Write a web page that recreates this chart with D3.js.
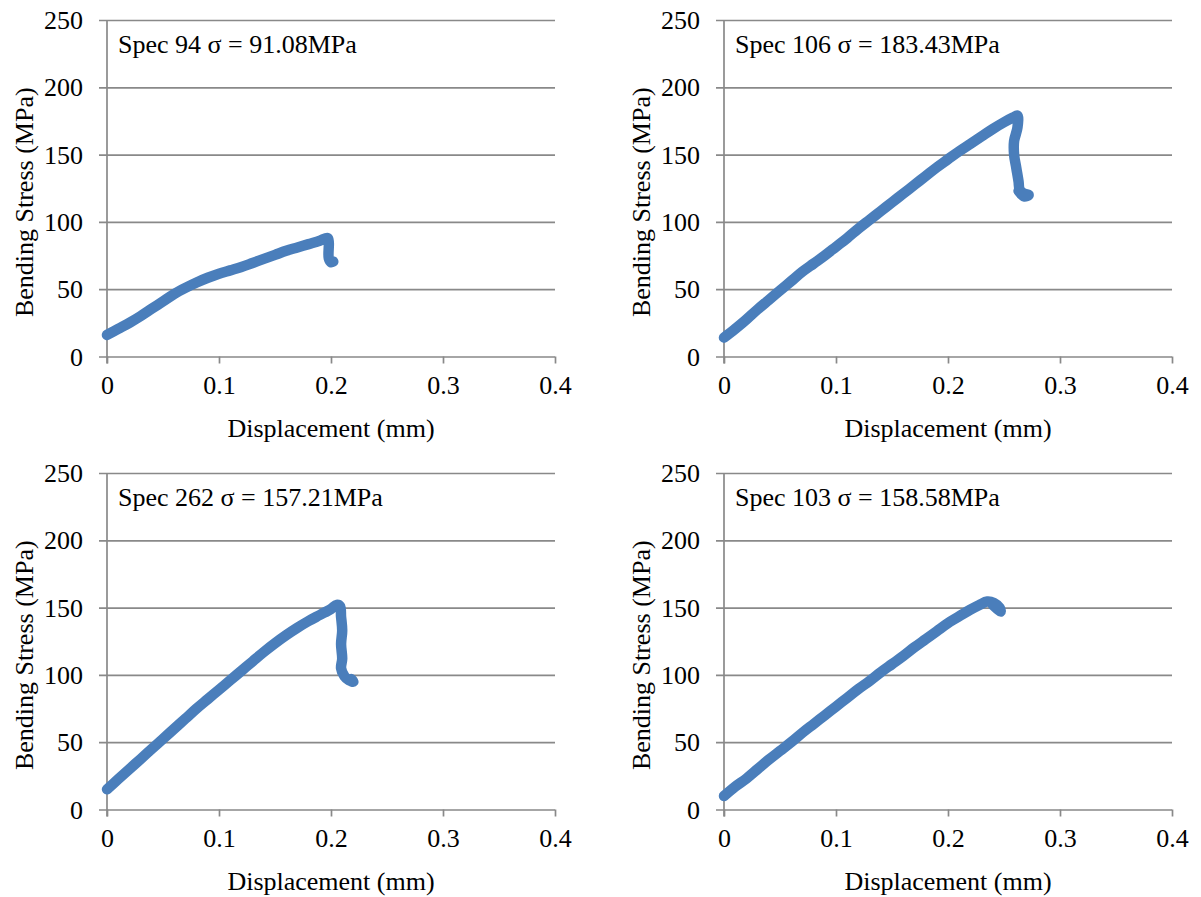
<!DOCTYPE html>
<html>
<head>
<meta charset="utf-8">
<script src="https://cdn.jsdelivr.net/npm/d3@7"></script>
<style>
  body { margin: 0; background: #fff; }
  svg text { font-family: "Liberation Serif", "Times New Roman", serif; fill: #000; }
</style>
</head>
<body>
<div id="chart"></div>
<script>
// Readings off the four bend tests: [displacement (mm), bending stress (MPa)]
const spec94 = [
  [0, 16], [0.01, 20.5], [0.02, 25], [0.03, 30], [0.04, 35.5], [0.05, 41],
  [0.06, 46.5], [0.07, 51], [0.08, 55], [0.09, 58.5], [0.1, 61.5], [0.11, 64],
  [0.12, 66.5], [0.13, 69.5], [0.14, 72.5], [0.15, 75.5], [0.16, 78.5], [0.17, 81],
  [0.18, 83.5], [0.19, 86], [0.197, 88], [0.198, 85], [0.198, 73], [0.2, 70], [0.202, 70.5]
];
const spec106 = [
  [0, 14], [0.01, 20.5], [0.02, 27.5], [0.03, 35], [0.04, 42], [0.05, 49],
  [0.06, 56], [0.07, 63], [0.08, 69], [0.09, 75], [0.1, 81.5], [0.11, 88],
  [0.12, 95], [0.13, 101.5], [0.14, 108], [0.15, 114.5], [0.16, 121], [0.17, 127.5],
  [0.18, 134], [0.19, 140.5], [0.2, 146.5], [0.21, 152.5], [0.22, 158], [0.23, 163.5],
  [0.24, 169], [0.25, 174], [0.258, 177.5], [0.262, 179], [0.262, 170], [0.259, 160],
  [0.259, 150], [0.261, 140], [0.263, 130], [0.264, 124], [0.268, 121], [0.272, 120],
  [0.268, 119], [0.263, 123]
];
const spec262 = [
  [0, 15], [0.01, 22.5], [0.02, 30], [0.03, 37.5], [0.04, 45], [0.05, 52.5],
  [0.06, 60], [0.07, 67.5], [0.08, 75], [0.09, 82], [0.1, 89], [0.11, 96],
  [0.12, 103], [0.13, 110], [0.14, 117], [0.15, 123.5], [0.16, 129.5], [0.17, 135],
  [0.18, 140], [0.19, 144.5], [0.2, 149], [0.205, 152], [0.208, 151], [0.209, 143],
  [0.21, 133], [0.209, 123], [0.21, 112], [0.209, 105], [0.212, 99], [0.216, 96],
  [0.22, 95], [0.218, 97]
];
const spec103 = [
  [0, 10], [0.01, 17], [0.02, 23], [0.03, 30], [0.04, 37], [0.05, 43.5],
  [0.06, 50], [0.07, 57], [0.08, 63.5], [0.09, 70], [0.1, 76.5], [0.11, 83],
  [0.12, 89.5], [0.13, 95.5], [0.14, 102], [0.15, 108], [0.16, 114], [0.17, 120.5],
  [0.18, 126.5], [0.19, 132.5], [0.2, 138.5], [0.21, 143.5], [0.22, 148.5], [0.228, 152],
  [0.235, 154.5], [0.241, 153.5], [0.246, 150], [0.247, 147], [0.244, 149], [0.24, 152]
];

const specTitles = [
  'Spec 94 σ = 91.08MPa',
  'Spec 106 σ = 183.43MPa',
  'Spec 262 σ = 157.21MPa',
  'Spec 103 σ = 158.58MPa'
];
const xTicks = [0, 0.1, 0.2, 0.3, 0.4];
const yTicks = [0, 50, 100, 150, 200, 250];
const xLabel = 'Displacement (mm)';
const yLabel = 'Bending Stress (MPa)';

const svg = d3.select('#chart')
  .append('svg')
  .attr('width', 1201)
  .attr('height', 897);

// plot box of each panel (top-left corner)
const panels = [
  { left: 107, top: 20, data: spec94, title: specTitles[0] },
  { left: 724, top: 20, data: spec106, title: specTitles[1] },
  { left: 107, top: 473, data: spec262, title: specTitles[2] },
  { left: 724, top: 473, data: spec103, title: specTitles[3] }
];
const plotW = 448;
const plotH = 336.5;
const gridColor = '#898989';

panels.forEach(p => {
  const g = svg.append('g')
    .attr('transform', `translate(${p.left},${p.top})`);

  const x = d3.scaleLinear().domain([0, 0.4]).range([0, plotW]);
  const y = d3.scaleLinear().domain([0, 250]).range([plotH, 0]);

  // y axis with gridlines running across the plot
  const yAxis = g.append('g')
    .call(d3.axisLeft(y).tickValues(yTicks).tickSize(-plotW).tickPadding(24));
  yAxis.select('.domain').remove();
  yAxis.selectAll('line')
    .attr('x1', -8)
    .attr('stroke', gridColor)
    .attr('stroke-width', 1.7);
  yAxis.selectAll('text')
    .attr('font-size', 26)
    .attr('dy', '0.33em');

  // x axis
  const xAxis = g.append('g')
    .attr('transform', `translate(0,${plotH})`)
    .call(d3.axisBottom(x).tickValues(xTicks).tickSize(7).tickPadding(12).tickFormat(d => d));
  xAxis.select('.domain').remove();
  xAxis.selectAll('line')
    .attr('stroke', gridColor)
    .attr('stroke-width', 1.7);
  xAxis.selectAll('text')
    .attr('font-size', 26);

  // vertical axis line
  g.append('line')
    .attr('x1', 0)
    .attr('x2', 0)
    .attr('y1', 0)
    .attr('y2', plotH + 7)
    .attr('stroke', gridColor)
    .attr('stroke-width', 1.7);

  // stress curve
  const line = d3.line()
    .curve(d3.curveCatmullRom.alpha(0.5))
    .x(d => x(d[0]))
    .y(d => y(d[1]));

  g.append('path')
    .datum(p.data)
    .attr('fill', 'none')
    .attr('stroke', '#4a7ebb')
    .attr('stroke-width', 10.5)
    .attr('stroke-linejoin', 'round')
    .attr('stroke-linecap', 'round')
    .attr('d', line);

  // specimen label
  g.append('text')
    .attr('x', 11)
    .attr('y', 33)
    .style('font-size', '26px')
    .text(p.title);

  // axis titles
  g.append('text')
    .attr('x', plotW / 2)
    .attr('y', plotH + 80)
    .attr('text-anchor', 'middle')
    .style('font-size', '26px')
    .text(xLabel);

  g.append('text')
    .attr('transform', 'rotate(-90)')
    .attr('x', -plotH / 2 - 14)
    .attr('y', -74)
    .attr('text-anchor', 'middle')
    .style('font-size', '26px')
    .text(yLabel);
});
</script>
</body>
</html>
